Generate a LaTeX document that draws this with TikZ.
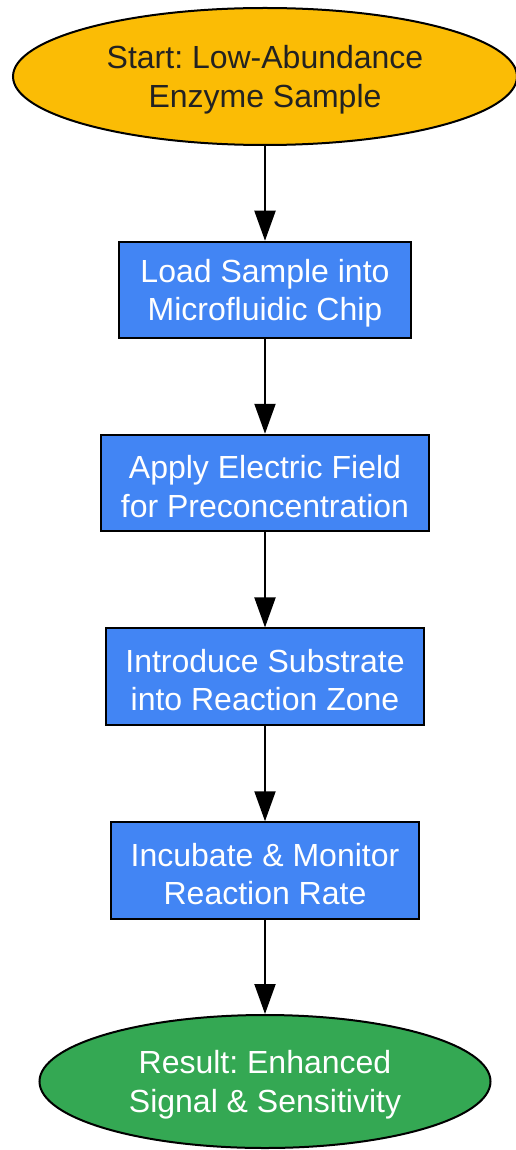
\documentclass[tikz,border=0pt]{standalone}
\usepackage{fontspec}
\setmainfont{Liberation Sans}
\usepackage{tikz}
\usetikzlibrary{shapes.geometric,arrows.meta}
\frenchspacing

\definecolor{startyellow}{HTML}{FBBC05}
\definecolor{stepblue}{HTML}{4285F4}
\definecolor{resultgreen}{HTML}{34A853}
\definecolor{darktext}{HTML}{222222}

% extra height above the first line, so the text sits a little lower
\newcommand{\toplift}{\rule{0pt}{30pt}}

\tikzset{
  flowfont/.style={font=\fontsize{32}{38.5}\selectfont, align=center},
  startnode/.style={ellipse, draw=black, line width=2pt, fill=startyellow,
    text=darktext, inner sep=0pt, flowfont},
  stepbox/.style={rectangle, draw=black, line width=2pt, fill=stepblue,
    text=white, inner sep=0pt, minimum height=96.5pt, flowfont},
  resultnode/.style={ellipse, draw=black, line width=2pt, fill=resultgreen,
    text=white, inner sep=0pt, flowfont},
  flowarrow/.style={draw=black, line width=2pt, -{Triangle[length=30pt,width=21pt]}}
}

\begin{document}
\begin{tikzpicture}[x=1pt, y=1pt]
		%----------------------------------------------------
		% Page frame (515 x 1150)
		%----------------------------------------------------
		\useasboundingbox (0,0) rectangle (515,-1150);
		
		%----------------------------------------------------
		% Start and result ellipses, the four steps between
		%----------------------------------------------------
		\node [startnode, minimum width=504pt, minimum height=137pt] (start) at (265,-76.5)
		  {\toplift Start: Low-Abundance\\Enzyme Sample};
		\node [stepbox, minimum width=292pt] (load) at (265,-290)
		  {\toplift Load Sample into\\Microfluidic Chip};
		\node [stepbox, minimum width=328pt] (apply) at (265,-483)
		  {\toplift Apply Electric Field\\for Preconcentration};
		\node [stepbox, minimum width=318.5pt] (substrate) at (265,-676.7)
		  {\toplift Introduce Substrate\\into Reaction Zone};
		\node [stepbox, minimum width=308.5pt] (monitor) at (265,-870.5)
		  {\toplift Incubate \& Monitor\\Reaction Rate};
		\node [resultnode, minimum width=451pt, minimum height=133pt] (result) at (265,-1081.5)
		  {\toplift Result: Enhanced\\Signal \& Sensitivity};
		
		%----------------------------------------------------
		% Arrows
		%----------------------------------------------------
		\draw [flowarrow] (start) -- (load);
		\draw [flowarrow] (load) -- (apply);
		\draw [flowarrow] (apply) -- (substrate);
		\draw [flowarrow] (substrate) -- (monitor);
		\draw [flowarrow] (monitor) -- (result);
\end{tikzpicture}
\end{document}
